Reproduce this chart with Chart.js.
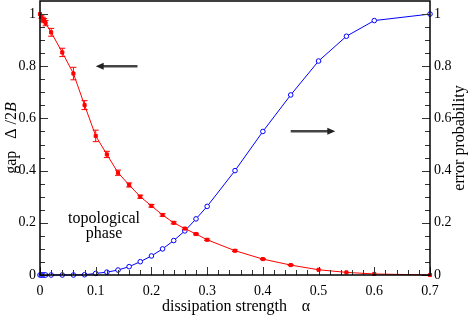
<!DOCTYPE html>
<html>
<head>
<meta charset="utf-8">
<script src="https://cdn.jsdelivr.net/npm/chart.js@4/dist/chart.umd.min.js"></script>
<style>
  body { margin:0; background:#fff; }
  canvas { display:block; }
</style>
</head>
<body>
<canvas id="gapChart" width="471" height="316"></canvas>
<script>
// gap data (red, left axis)
const alphaGap = [0, 0.0025, 0.005, 0.0075, 0.01, 0.02, 0.04, 0.06, 0.08, 0.1, 0.12, 0.14, 0.16, 0.18, 0.2, 0.22, 0.24, 0.26, 0.28, 0.3, 0.35, 0.4, 0.45, 0.5, 0.55, 0.6, 0.7];
const gapValues = [1.0, 0.99, 0.98, 0.975, 0.965, 0.93, 0.853, 0.772, 0.651, 0.533, 0.462, 0.392, 0.345, 0.30, 0.265, 0.23, 0.20, 0.178, 0.157, 0.135, 0.093, 0.061, 0.038, 0.02, 0.01, 0.004, 0];
const gapErrors = [0, 0.006, 0.008, 0.008, 0.01, 0.015, 0.016, 0.024, 0.017, 0.022, 0.012, 0.01, 0.008, 0.006, 0.005, 0.005, 0.004, 0.003, 0.003, 0.003, 0.003, 0.002, 0.002, 0, 0, 0, 0];

// error probability data (blue, right axis)
const alphaErr = [0, 0.0025, 0.005, 0.0075, 0.01, 0.02, 0.04, 0.06, 0.08, 0.1, 0.12, 0.14, 0.16, 0.18, 0.2, 0.22, 0.24, 0.26, 0.28, 0.3, 0.35, 0.4, 0.45, 0.5, 0.55, 0.6, 0.7];
const errValues = [0, 0, 0, 0, 0, 0, 0, 0, 0.001, 0.006, 0.011, 0.019, 0.032, 0.051, 0.073, 0.1, 0.132, 0.169, 0.215, 0.263, 0.40, 0.55, 0.69, 0.82, 0.915, 0.975, 1.0];

// ticks
const xMajor = [0, 0.1, 0.2, 0.3, 0.4, 0.5, 0.6, 0.7];
const xMinor = [0.02, 0.04, 0.06, 0.08, 0.12, 0.14, 0.16, 0.18, 0.22, 0.24, 0.26, 0.28, 0.32, 0.34, 0.36, 0.38, 0.42, 0.44, 0.46, 0.48, 0.52, 0.54, 0.56, 0.58, 0.62, 0.64, 0.66, 0.68];
const yMajor = [0, 0.2, 0.4, 0.6, 0.8, 1];
const yMinor = [0.05, 0.1, 0.15, 0.25, 0.3, 0.35, 0.45, 0.5, 0.55, 0.65, 0.7, 0.75, 0.85, 0.9, 0.95];

const serif = '"Liberation Serif", "DejaVu Serif", serif';
Chart.defaults.font.family = serif;
const ctx = document.getElementById('gapChart').getContext('2d');

const tickFont = { family: serif, size: 14 };
const fmt = v => v === 0 ? '0' : (Math.round(v*10)/10).toString();

// frame, inward ticks, error bars, arrows and labels
const decor = {
  id: 'decor',
  afterDatasetsDraw(chart) {
    const c = chart.ctx, a = chart.chartArea;
    const xs = chart.scales.x, ys = chart.scales.y;
    c.save();
    // error bars
    c.strokeStyle = '#ff0000'; c.lineWidth = 1;
    alphaGap.forEach((x, i) => {
      const e = gapErrors[i];
      if (!e) return;
      const px = xs.getPixelForValue(x);
      const y1 = ys.getPixelForValue(gapValues[i] + e), y2 = ys.getPixelForValue(gapValues[i] - e);
      c.beginPath();
      c.moveTo(px, y1); c.lineTo(px, y2);
      c.moveTo(px-3, y1); c.lineTo(px+3, y1);
      c.moveTo(px-3, y2); c.lineTo(px+3, y2);
      c.stroke();
    });

    // ticks
    c.strokeStyle = '#333'; c.lineWidth = 1;
    c.beginPath();
    xMajor.forEach(v => { const p = Math.round(xs.getPixelForValue(v))+0.5; c.moveTo(p, a.bottom); c.lineTo(p, a.bottom-8); });
    xMinor.forEach(v => { const p = Math.round(xs.getPixelForValue(v))+0.5; c.moveTo(p, a.bottom); c.lineTo(p, a.bottom-5); });
    yMajor.forEach(v => { const p = Math.round(ys.getPixelForValue(v))+0.5;
      c.moveTo(a.left, p); c.lineTo(a.left+8, p); c.moveTo(a.right, p); c.lineTo(a.right-8, p); });
    yMinor.forEach(v => { const p = Math.round(ys.getPixelForValue(v))+0.5;
      c.moveTo(a.left, p); c.lineTo(a.left+5, p); c.moveTo(a.right, p); c.lineTo(a.right-5, p); });
    c.stroke();

    // frame
    c.strokeStyle = '#000'; c.lineWidth = 1.5;
    c.strokeRect(a.left, a.top, a.right - a.left, a.bottom - a.top);

    // arrows
    function arrow(x0, x1, yv) {
      const p0 = xs.getPixelForValue(x0), p1 = xs.getPixelForValue(x1), py = ys.getPixelForValue(yv);
      const dir = Math.sign(p1 - p0);
      c.strokeStyle = '#444'; c.fillStyle = '#222'; c.lineWidth = 2.5;
      c.beginPath(); c.moveTo(p0, py); c.lineTo(p1 - dir*6, py); c.stroke();
      c.beginPath(); c.moveTo(p1, py); c.lineTo(p1 - dir*8, py-3.5); c.lineTo(p1 - dir*8, py+3.5); c.closePath(); c.fill();
    }
    arrow(0.175, 0.1, 0.8);
    arrow(0.45, 0.53, 0.551);

    // text inside plot
    c.fillStyle = '#000';
    c.font = '16px ' + serif;
    c.textAlign = 'center'; c.textBaseline = 'alphabetic';
    const tx = xs.getPixelForValue(0.115);
    c.fillText('topological', tx, ys.getPixelForValue(0.2));
    c.fillText('phase', tx, ys.getPixelForValue(0.14));

    // x title
    c.textAlign = 'right';
    c.fillText('dissipation strength', 287, 311);
    c.textAlign = 'center';
    c.fillText('α', 306, 311);

    // left title: gap  Δ /2B
    c.save();
    c.translate(16, 138); c.rotate(-Math.PI/2);
    const parts = [['gap', '16px '], ['   Δ', '16px '], [' /2', '16px '], ['B', 'italic 16px ']];
    let total = 0;
    parts.forEach(p => { c.font = p[1] + serif; total += c.measureText(p[0]).width; });
    let cx = -total/2;
    c.textAlign = 'left';
    parts.forEach(p => { c.font = p[1] + serif; c.fillText(p[0], cx, 0); cx += c.measureText(p[0]).width; });
    c.restore();

    // right title
    c.save();
    c.translate(464, 138); c.rotate(-Math.PI/2);
    c.font = '16px ' + serif; c.textAlign = 'center';
    c.fillText('error probability', 0, 0);
    c.restore();

    c.restore();
  }
};

const noPadY = s => { s.paddingTop = 0; s.paddingBottom = 0; };

new Chart(ctx, {
  type: 'scatter',
  data: {
    datasets: [
      {
        label: 'gap',
        data: alphaGap.map((x, i) => ({ x: x, y: gapValues[i] })),
        showLine: true, borderColor: '#ff0000', borderWidth: 1,
        pointStyle: 'rect', pointRadius: 2.2, backgroundColor: '#ff0000', pointBorderColor: '#ff0000',
        yAxisID: 'y', clip: false
      },
      {
        label: 'error probability',
        data: alphaErr.map((x, i) => ({ x: x, y: errValues[i] })),
        showLine: true, borderColor: '#0000ff', borderWidth: 1,
        pointStyle: 'circle', pointRadius: 2.3, backgroundColor: '#ffffff', pointBorderColor: '#0000ff', pointBorderWidth: 1,
        yAxisID: 'y2', clip: false
      }
    ]
  },
  options: {
    responsive: false, animation: false,
    layout: { padding: { top: 1 }, autoPadding: false },
    plugins: { legend: { display: false }, tooltip: { enabled: false } },
    scales: {
      x: {
        type: 'linear', min: 0, max: 0.7,
        grid: { display: false, drawTicks: false }, border: { display: false },
        ticks: { font: tickFont, color: '#000', padding: 8, callback: fmt, maxRotation: 0 },
        afterBuildTicks: s => { s.ticks = xMajor.map(v => ({ value: v })); },
        afterFit: s => { s.height = 41; s.paddingLeft = 0; s.paddingRight = 0; }
      },
      y: {
        position: 'left', min: 0, max: 1.05,
        grid: { display: false, drawTicks: false }, border: { display: false },
        ticks: { font: tickFont, color: '#000', padding: 4, callback: fmt },
        afterBuildTicks: s => { s.ticks = yMajor.map(v => ({ value: v })); },
        afterFit: s => { s.width = 40; noPadY(s); }
      },
      y2: {
        position: 'right', min: 0, max: 1.05,
        grid: { display: false, drawTicks: false }, border: { display: false },
        ticks: { font: tickFont, color: '#000', padding: 4, callback: fmt },
        afterBuildTicks: s => { s.ticks = yMajor.map(v => ({ value: v })); },
        afterFit: s => { s.width = 41; noPadY(s); }
      }
    }
  },
  plugins: [decor]
});
</script>
</body>
</html>
